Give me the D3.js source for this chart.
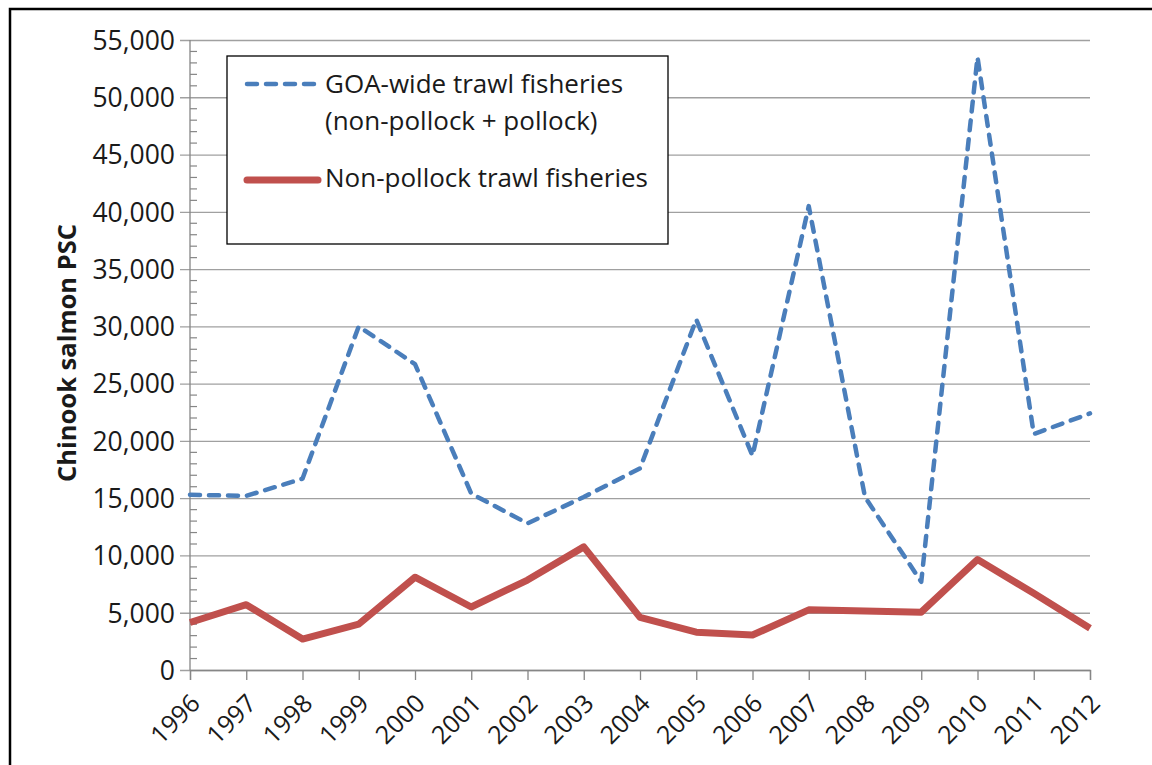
<!DOCTYPE html>
<html>
<head>
<meta charset="utf-8">
<script src="https://cdn.jsdelivr.net/npm/d3@7"></script>
<style>
  body { margin: 0; background: #fff; }
  svg text { font-family: "Open Sans", "Noto Sans", sans-serif; fill: #1a1a1a; }
</style>
</head>
<body>
<svg id="chart" width="1152" height="765"></svg>
<script>
const years = [1996, 1997, 1998, 1999, 2000, 2001, 2002, 2003, 2004, 2005, 2006, 2007, 2008, 2009, 2010, 2011, 2012];
const goaWide = [15300, 15200, 16700, 30000, 26700, 15400, 12800, 15100, 17600, 30600, 18700, 40500, 15100, 7700, 53500, 20600, 22400];
const nonPollock = [4150, 5700, 2700, 4000, 8100, 5500, 7850, 10750, 4600, 3300, 3050, 5250, 5150, 5050, 9650, 6700, 3650];
const yTicks = [0, 5000, 10000, 15000, 20000, 25000, 30000, 35000, 40000, 45000, 50000, 55000];
const legendLabels = [["GOA-wide trawl fisheries", "(non-pollock + pollock)"], ["Non-pollock trawl fisheries"]];

const svg = d3.select('#chart');
const margin = { left: 190, top: 40, right: 62, bottom: 95 };
const width = 1152 - margin.left - margin.right;
const height = 765 - margin.top - margin.bottom;

// outer frame (cropped on right and bottom)
svg.append('path')
  .attr('d', 'M10,765 V9 H1152')
  .attr('fill', 'none')
  .attr('stroke', '#000')
  .attr('stroke-width', 2.5);

const g = svg.append('g').attr('transform', `translate(${margin.left},${margin.top})`);

const x = d3.scaleLinear().domain([1996, 2012]).range([0, width]);
const y = d3.scaleLinear().domain([0, 55000]).range([height, 0]);

// gridlines + major ticks
const yAxis = g.append('g')
  .call(d3.axisLeft(y).tickValues(yTicks).tickSize(-width - 10).tickPadding(14).tickFormat(d3.format(',')))
  .attr('transform', 'translate(-10,0)');
yAxis.select('.domain').remove();
yAxis.selectAll('.tick line').attr('stroke', '#a0a0a0').attr('stroke-width', 1.3)
  .attr('x1', 0).attr('x2', width + 10);
yAxis.selectAll('.tick text').style('font-size', '26.5px').attr('x', -5).attr('dy', '0.35em');

// minor ticks
const minor = d3.range(0, 55001, 1000).filter(v => v % 5000 !== 0);
g.append('g').selectAll('line').data(minor).enter().append('line')
  .attr('x1', 0).attr('x2', 7)
  .attr('y1', d => y(d)).attr('y2', d => y(d))
  .attr('stroke', '#868686').attr('stroke-width', 1.2);

// y axis line
g.append('line').attr('x1', 0).attr('x2', 0).attr('y1', 0).attr('y2', height)
  .attr('stroke', '#868686').attr('stroke-width', 1.3);

// x axis
const xAxis = g.append('g').attr('transform', `translate(0,${height})`)
  .call(d3.axisBottom(x).tickValues(years).tickSize(10).tickFormat(d3.format('d')));
xAxis.select('.domain').attr('stroke', '#868686').attr('stroke-width', 1.3);
xAxis.selectAll('.tick line').attr('stroke', '#868686').attr('stroke-width', 1.3);
xAxis.selectAll('.tick text')
  .style('font-size', '25px')
  .attr('text-anchor', 'end')
  .attr('dy', null)
  .attr('y', 0)
  .attr('transform', 'translate(11,35) rotate(-45)');

// y label
svg.append('text')
  .attr('transform', 'translate(76,353) rotate(-90)')
  .attr('text-anchor', 'middle')
  .style('font-size', '25.5px')
  .style('font-weight', 'bold')
  .text('Chinook salmon PSC');

const line = d3.line().x((d, i) => x(years[i])).y(d => y(d));

g.append('path').datum(nonPollock)
  .attr('d', line)
  .attr('fill', 'none')
  .attr('stroke', '#c0504d')
  .attr('stroke-width', 7)
  .attr('stroke-linejoin', 'round');

g.append('path').datum(goaWide)
  .attr('d', line)
  .attr('fill', 'none')
  .attr('stroke', '#4a7ebb')
  .attr('stroke-width', 4.5)
  .attr('stroke-dasharray', '10,9')
  .attr('stroke-linecap', 'round')
  .attr('stroke-linejoin', 'round');

// legend
const lg = svg.append('g').attr('transform', 'translate(227,56)');
lg.append('rect').attr('width', 441).attr('height', 188)
  .attr('fill', '#fff').attr('stroke', '#000').attr('stroke-width', 1.3);
lg.append('line').attr('x1', 20).attr('x2', 91).attr('y1', 28).attr('y2', 28)
  .attr('stroke', '#4a7ebb').attr('stroke-width', 4.5)
  .attr('stroke-dasharray', '10,9').attr('stroke-linecap', 'round');
lg.append('line').attr('x1', 20).attr('x2', 91).attr('y1', 124).attr('y2', 124)
  .attr('stroke', '#c0504d').attr('stroke-width', 7).attr('stroke-linecap', 'round');
const ltext = lg.append('text').attr('x', 98).style('font-size', '26px');
ltext.append('tspan').attr('x', 98).attr('y', 37).text(legendLabels[0][0]);
ltext.append('tspan').attr('x', 98).attr('y', 74).text(legendLabels[0][1]);
lg.append('text').attr('x', 98).attr('y', 131).style('font-size', '26px').text(legendLabels[1][0]);
</script>
</body>
</html>
